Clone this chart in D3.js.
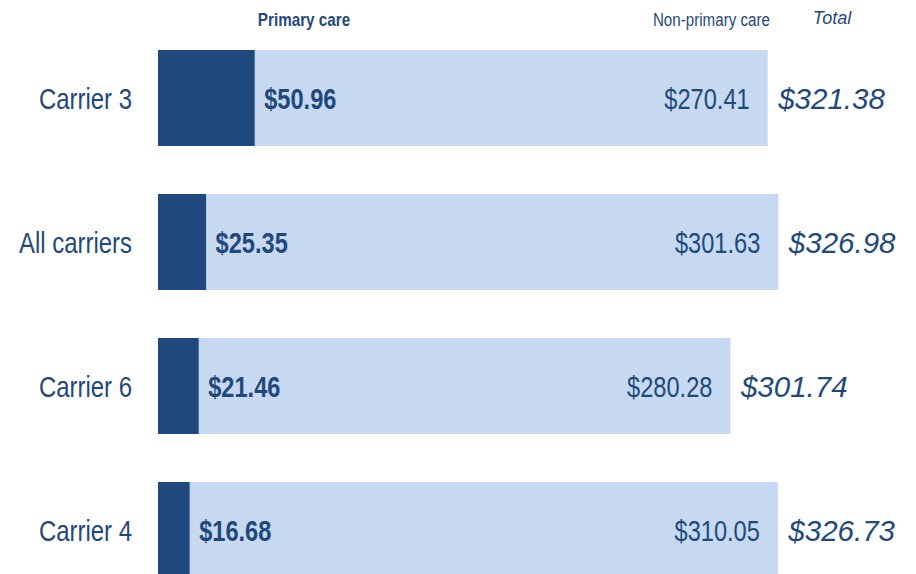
<!DOCTYPE html>
<html>
<head>
<meta charset="utf-8">
<script src="https://cdn.jsdelivr.net/npm/d3@7"></script>
<style>
  html, body { margin: 0; padding: 0; background: #fff; }
  svg text { fill: #1f497d; }
  .narrow { font-family: "Liberation Sans", Arial, sans-serif; }
  .italic { font-family: "Liberation Sans", Arial, sans-serif; font-style: italic; }
</style>
</head>
<body>
<div id="chart"></div>
<script>
// carriers, top to bottom
var categories = ["Carrier 3", "All carriers", "Carrier 6", "Carrier 4"];
var primary    = [50.96, 25.35, 21.46, 16.68];
var nonPrimary = [270.41, 301.63, 280.28, 310.05];
var totals     = [321.38, 326.98, 301.74, 326.73];
var headers    = ["Primary care", "Non-primary care", "Total"];

var width = 916, height = 574;
var darkBlue = "#1f497d", lightBlue = "#c6d9f0";
var squeeze = 0.82; // no narrow font installed, so squeeze Liberation Sans

var svg = d3.select("#chart").append("svg")
  .attr("width", width)
  .attr("height", height);

// x scale: dollars -> px, bars start at 158
var x = d3.scaleLinear().domain([0, 321.38]).range([158, 767.7]);

var y = d3.scaleBand()
  .domain(categories)
  .range([50, 578])
  .paddingInner(1/3)
  .paddingOuter(0);

var data = categories.map(function(c, i) {
  return {cat: c, p: primary[i], n: nonPrimary[i], t: totals[i]};
});

var rows = svg.selectAll("g.row")
  .data(data)
  .enter().append("g")
  .attr("class", "row");

// non-primary (light) bar drawn full length
rows.append("rect")
  .attr("x", x(0))
  .attr("y", d => y(d.cat))
  .attr("width", d => x(d.p + d.n) - x(0))
  .attr("height", y.bandwidth())
  .attr("fill", lightBlue);

// primary (dark) part
rows.append("rect")
  .attr("x", x(0))
  .attr("y", d => y(d.cat))
  .attr("width", d => x(d.p) - x(0))
  .attr("height", y.bandwidth())
  .attr("fill", darkBlue);

var mid = d => y(d.cat) + y.bandwidth() / 2 + 10.5;

// narrow text helper: positioned group, squeezed horizontally
function narrowText(sel, fx, fy, anchor, size, weight, ftext) {
  sel.append("g")
    .attr("transform", function(d) {
      return "translate(" + fx(d) + "," + fy(d) + ") scale(" + squeeze + ",1)";
    })
    .append("text")
    .attr("class", "narrow")
    .attr("text-anchor", anchor)
    .style("font-size", size)
    .style("font-weight", weight)
    .text(ftext);
}

// category labels
narrowText(rows, d => 132, mid, "end", "29.2px", "normal", d => d.cat);

// primary value
narrowText(rows, d => x(d.p) + 9.5, mid, "start", "28.8px", "bold",
  d => "$" + d.p.toFixed(2));

// non-primary value
narrowText(rows, d => x(d.p + d.n) - 18, mid, "end", "28.8px", "normal",
  d => "$" + d.n.toFixed(2));

// totals
rows.append("text")
  .attr("class", "italic")
  .attr("x", d => x(d.p + d.n) + 10.5)
  .attr("y", d => mid(d) + 0.5)
  .style("font-size", "29.5px")
  .text(d => "$" + d.t.toFixed(2));

// column headers
var head = svg.append("g");
narrowText(head, d => 304, d => 25.5, "middle", "18.6px", "bold", headers[0]);
narrowText(head, d => 770, d => 25.5, "end", "18.5px", "normal", headers[1]);

svg.append("text")
  .attr("class", "italic")
  .attr("x", 832)
  .attr("y", 24)
  .attr("text-anchor", "middle")
  .style("font-size", "18px")
  .text(headers[2]);
</script>
</body>
</html>
